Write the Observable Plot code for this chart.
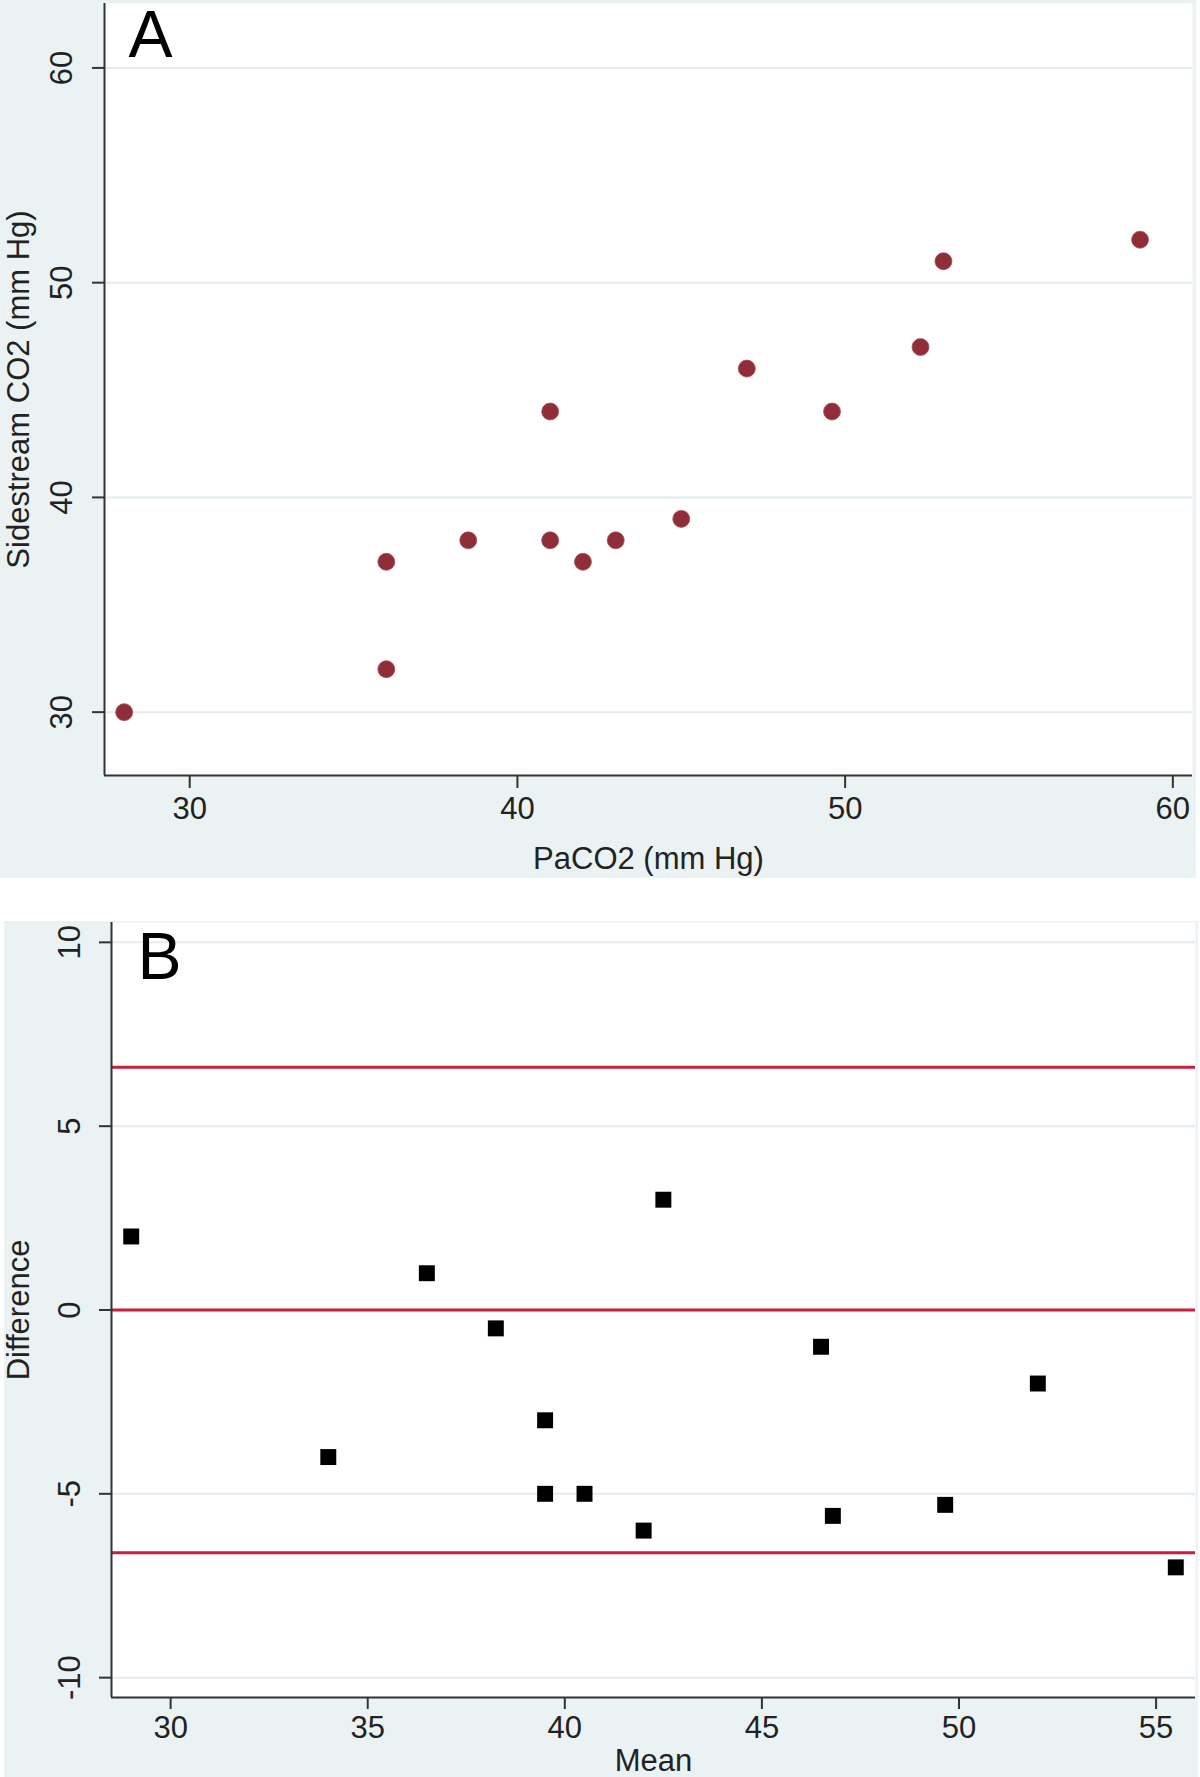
<!DOCTYPE html>
<html>
<head>
<meta charset="utf-8">
<script src="https://cdn.jsdelivr.net/npm/d3@7"></script>
<script src="https://cdn.jsdelivr.net/npm/@observablehq/plot@0.6"></script>
<style>
  html, body { margin: 0; padding: 0; background: #ffffff; }
  #a svg, #b svg { display: block; }
  #gap { height: 43px; }
  #b { margin-left: 4px; }
</style>
</head>
<body>
<div id="a"></div>
<div id="gap"></div>
<div id="b"></div>
<script>
// Panel A data: PaCO2 vs Sidestream CO2
const paco2 = [28, 36, 36, 38.5, 41, 41, 42, 43, 45, 47, 49.6, 52.3, 53, 59];
const sidestream = [30, 37, 32, 38, 44, 38, 37, 38, 39, 46, 44, 47, 51, 52];
const xTicksA = [30, 40, 50, 60];
const yTicksA = [30, 40, 50, 60];
const xDomainA = [27.4, 60.6];
const yDomainA = [27.05, 63.0];

// Panel B data: Bland-Altman (mean vs difference)
const means = [29, 34, 36.5, 38.25, 39.5, 39.5, 40.5, 42, 42.5, 46.5, 46.8, 49.65, 52, 55.5];
const diffs = [2, -4, 1, -0.5, -3, -5, -5, -6, 3, -1, -5.6, -5.3, -2, -7];
const limits = [6.6, 0, -6.6];
const xTicksB = [30, 35, 40, 45, 50, 55];
const yTicksB = [-10, -5, 0, 5, 10];
const xDomainB = [28.5, 56];
const yDomainB = [-10.54, 10.54];

const BG = "#eaf2f3";
const GRID = "#e2ecef";
const AXIS = "#333333";
const FONT = "'Liberation Sans', Arial, sans-serif";

const ptsA = paco2.map((x, i) => ({x, y: sidestream[i]}));
const ptsB = means.map((x, i) => ({x, y: diffs[i]}));

const chartA = Plot.plot({
  width: 1196,
  height: 878,
  marginLeft: 104,
  marginRight: 4,
  marginTop: 3,
  marginBottom: 103,
  x: {domain: xDomainA},
  y: {domain: yDomainA},
  style: {background: BG, fontFamily: FONT, color: "#222", overflow: "visible"},
  marks: [
    Plot.frame({fill: "white", stroke: null}),
    Plot.ruleY(yTicksA, {stroke: GRID, strokeWidth: 2}),
    Plot.ruleX([xDomainA[0]], {stroke: AXIS, strokeWidth: 2}),
    Plot.ruleY([yDomainA[0]], {stroke: AXIS, strokeWidth: 2}),
    Plot.axisX(xTicksA, {tickSize: 13, tickPadding: 8, fontSize: 31, stroke: AXIS, strokeWidth: 2, label: null}),
    Plot.axisY(yTicksA, {tickSize: 12, tickFormat: () => "", stroke: AXIS, strokeWidth: 2, label: null}),
    Plot.text(yTicksA, {y: d => d, text: d => String(d), frameAnchor: "left", dx: -42, rotate: -90, fontSize: 31, textAnchor: "middle", lineAnchor: "middle", fill: "#222"}),
    Plot.text(["PaCO2 (mm Hg)"], {frameAnchor: "bottom", dy: 84, fontSize: 31, textAnchor: "middle", lineAnchor: "middle", fill: "#222"}),
    Plot.text(["Sidestream CO2 (mm Hg)"], {frameAnchor: "left", dx: -85, rotate: -90, fontSize: 31, textAnchor: "middle", lineAnchor: "middle", fill: "#222"}),
    Plot.text(["A"], {frameAnchor: "top-left", dx: 24, dy: 7, fontSize: 66, lineAnchor: "top", textAnchor: "start", fill: "#000"}),
    Plot.dot(ptsA, {x: "x", y: "y", r: 8.5, fill: "#8f2e39", stroke: "#a8525b", strokeWidth: 0.8})
  ]
});
document.getElementById("a").appendChild(chartA);

const chartB = Plot.plot({
  width: 1194,
  height: 856,
  marginLeft: 107,
  marginRight: 3,
  marginTop: 1,
  marginBottom: 80,
  x: {domain: xDomainB},
  y: {domain: yDomainB},
  style: {background: BG, fontFamily: FONT, color: "#222", overflow: "visible"},
  marks: [
    Plot.frame({fill: "white", stroke: null}),
    Plot.ruleY(yTicksB, {stroke: GRID, strokeWidth: 2}),
    Plot.ruleY(limits, {stroke: "#c71f3d", strokeWidth: 3}),
    Plot.ruleX([xDomainB[0]], {stroke: AXIS, strokeWidth: 2}),
    Plot.ruleY([yDomainB[0]], {stroke: AXIS, strokeWidth: 2}),
    Plot.axisX(xTicksB, {tickSize: 12, tickPadding: 6, fontSize: 31, stroke: AXIS, strokeWidth: 2, label: null}),
    Plot.axisY(yTicksB, {tickSize: 12, tickFormat: () => "", stroke: AXIS, strokeWidth: 2, label: null}),
    Plot.text(yTicksB, {y: d => d, text: d => String(d), frameAnchor: "left", dx: -41, rotate: -90, fontSize: 31, textAnchor: "middle", lineAnchor: "middle", fill: "#222"}),
    Plot.text(["Mean"], {frameAnchor: "bottom", dy: 64, fontSize: 31, textAnchor: "middle", lineAnchor: "middle", fill: "#222"}),
    Plot.text(["Difference"], {frameAnchor: "left", dx: -92, rotate: -90, fontSize: 31, textAnchor: "middle", lineAnchor: "middle", fill: "#222"}),
    Plot.text(["B"], {frameAnchor: "top-left", dx: 26, dy: 10, fontSize: 66, lineAnchor: "top", textAnchor: "start", fill: "#000"}),
    Plot.dot(ptsB, {x: "x", y: "y", r: 9, symbol: "square", fill: "#000", stroke: null})
  ]
});
document.getElementById("b").appendChild(chartB);
</script>
</body>
</html>
